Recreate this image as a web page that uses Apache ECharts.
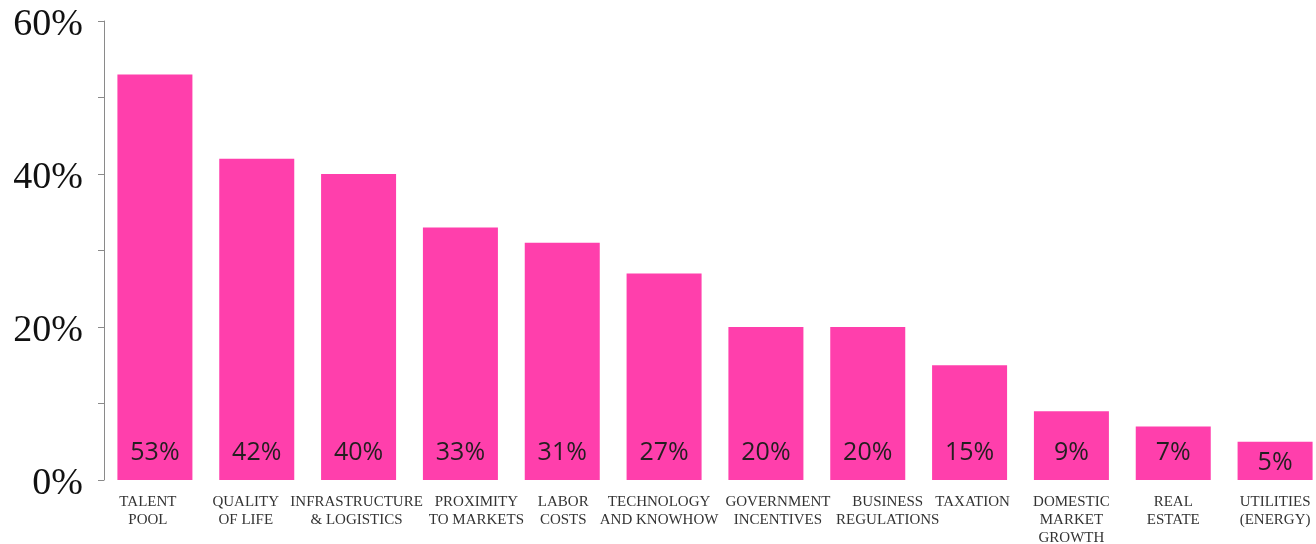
<!DOCTYPE html>
<html>
<head>
<meta charset="utf-8">
<script src="https://cdn.jsdelivr.net/npm/echarts@6/dist/echarts.min.js"></script>
<style>
html,body{margin:0;padding:0;background:#fff;}
#chart{width:1316px;height:544px;}
</style>
</head>
<body>
<div id="chart"></div>
<script>
const categories = [
  "TALENT\nPOOL",
  "QUALITY\nOF LIFE",
  "INFRASTRUCTURE\n& LOGISTICS",
  "PROXIMITY\nTO MARKETS",
  "LABOR\nCOSTS",
  "TECHNOLOGY\nAND KNOWHOW",
  "GOVERNMENT\nINCENTIVES",
  "BUSINESS\nREGULATIONS",
  "TAXATION",
  "DOMESTIC\nMARKET\nGROWTH",
  "REAL\nESTATE",
  "UTILITIES\n(ENERGY)"
];
const values = [53, 42, 40, 33, 31, 27, 20, 20, 15, 9, 7, 5];
const yTickLabels = [0, 20, 40, 60];

// styling: horizontal nudges (px) of category labels, as in the reference layout
const labelNudge = [-7, -11, -2, 16, 1, -5, 12, 20, 3, 0, 0, 0];

const barColor = '#ff3fac';

const seriesData = values.map(function (v) {
  const item = { value: v };
  if (v < 6) {
    item.label = { position: 'inside', offset: [0, 2] };
  }
  return item;
});

const rich = {};
labelNudge.forEach(function (d, i) {
  rich['s' + i] = {
    fontFamily: 'Liberation Serif',
    fontSize: 15,
    lineHeight: 18,
    color: '#333333',
    padding: d >= 0 ? [0, 0, 0, 2 * d] : [0, -2 * d, 0, 0]
  };
});

const chart = echarts.init(document.getElementById('chart'), null, { renderer: 'canvas' });
chart.setOption({
  backgroundColor: '#ffffff',
  animation: false,
  grid: { left: 104, top: 21, bottom: 64, width: 1222, containLabel: false, outerBoundsMode: 'none' },
  xAxis: {
    type: 'category',
    data: categories,
    axisLine: { show: false },
    axisTick: { show: false },
    axisLabel: {
      interval: 0,
      margin: 13,
      fontFamily: 'Liberation Serif',
      fontSize: 15,
      lineHeight: 18,
      color: '#333333',
      align: 'center',
      formatter: function (v, i) {
        return v.split('\n').map(function (l) { return '{s' + i + '|' + l + '}'; }).join('\n');
      },
      rich: rich
    }
  },
  yAxis: {
    type: 'value',
    min: 0,
    max: 60,
    interval: 10,
    splitLine: { show: false },
    axisLine: { show: true, lineStyle: { color: '#8a8a8a', width: 1 } },
    axisTick: { show: true, length: 6, lineStyle: { color: '#8a8a8a', width: 1 } },
    axisLabel: {
      margin: 21,
      fontFamily: 'Liberation Serif',
      fontSize: 38,
      color: '#111111',
      formatter: function (v) {
        return yTickLabels.indexOf(v) >= 0 ? '{v|' + v + '%}' : '';
      },
      rich: {
        v: {
          fontFamily: 'Liberation Serif',
          fontSize: 38,
          color: '#111111',
          padding: [9, 0, 0, 0]
        }
      }
    }
  },
  series: [{
    type: 'bar',
    data: seriesData,
    barWidth: 75,
    itemStyle: { color: barColor },
    label: {
      show: true,
      position: 'insideBottom',
      distance: 15,
      formatter: '{c}%',
      fontFamily: 'Open Sans',
      fontSize: 25,
      color: '#231f20'
    }
  }]
});
</script>
</body>
</html>
